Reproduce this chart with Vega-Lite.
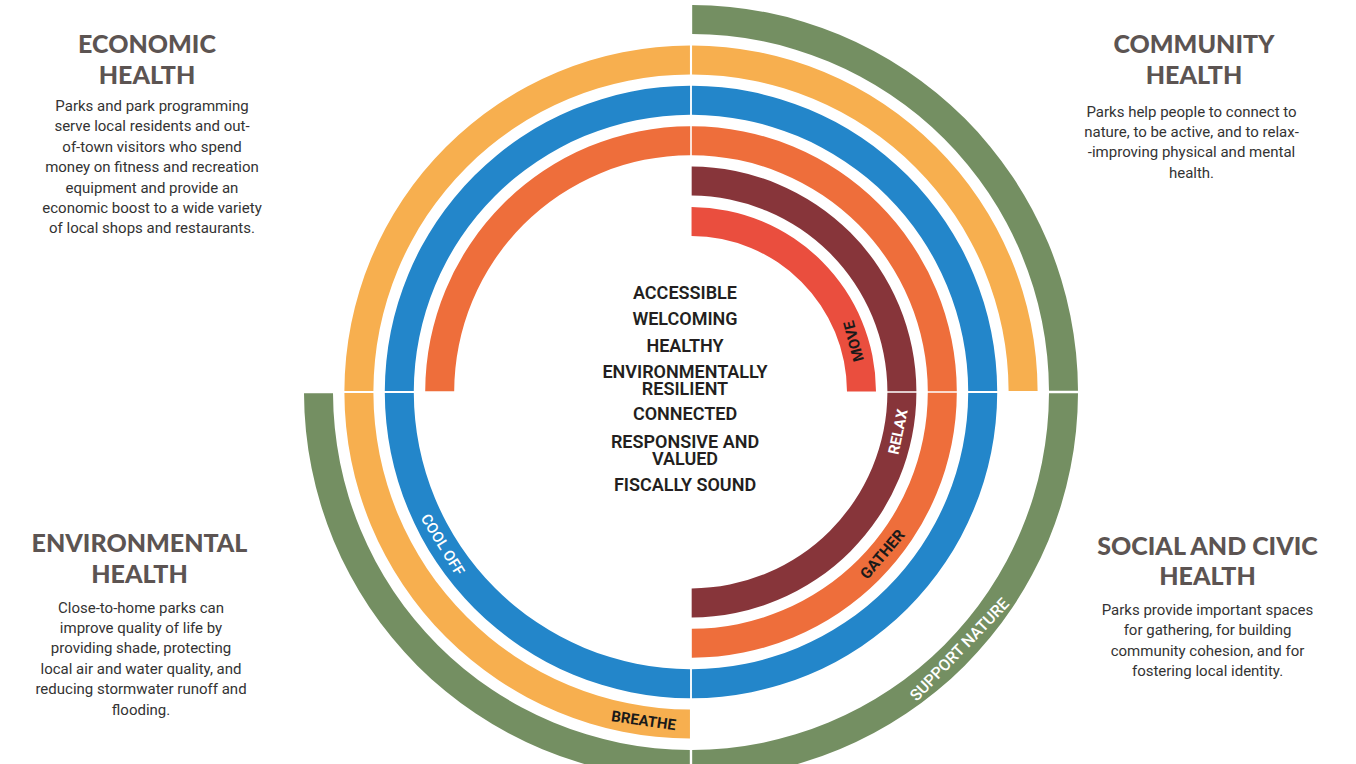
{
  "$schema": "https://vega.github.io/schema/vega-lite/v6.json",
  "width": 1330,
  "height": 744,
  "autosize": {"type": "none"},
  "padding": {"left": 26, "top": 20, "right": 0, "bottom": 0},
  "background": "white",
  "config": {"view": {"stroke": null}},
  "resolve": {"scale": {"radius": "independent", "theta": "independent", "color": "independent"}},
  "layer": [
    {
      "data": {"values": [
        {"quadrant": "Community Health", "activity": "Support Nature", "ring": 6, "start": 0, "end": 90},
        {"quadrant": "Community Health", "activity": "Breathe", "ring": 5, "start": 0, "end": 90},
        {"quadrant": "Community Health", "activity": "Cool Off", "ring": 4, "start": 0, "end": 90},
        {"quadrant": "Community Health", "activity": "Gather", "ring": 3, "start": 0, "end": 90},
        {"quadrant": "Community Health", "activity": "Relax", "ring": 2, "start": 0, "end": 90},
        {"quadrant": "Community Health", "activity": "Move", "ring": 1, "start": 0, "end": 90},
        {"quadrant": "Social and Civic Health", "activity": "Support Nature", "ring": 6, "start": 90, "end": 180},
        {"quadrant": "Social and Civic Health", "activity": "Cool Off", "ring": 4, "start": 90, "end": 180},
        {"quadrant": "Social and Civic Health", "activity": "Gather", "ring": 3, "start": 90, "end": 180},
        {"quadrant": "Social and Civic Health", "activity": "Relax", "ring": 2, "start": 90, "end": 180},
        {"quadrant": "Environmental Health", "activity": "Support Nature", "ring": 6, "start": 180, "end": 270},
        {"quadrant": "Environmental Health", "activity": "Breathe", "ring": 5, "start": 180, "end": 270},
        {"quadrant": "Environmental Health", "activity": "Cool Off", "ring": 4, "start": 180, "end": 270},
        {"quadrant": "Economic Health", "activity": "Breathe", "ring": 5, "start": 270, "end": 360},
        {"quadrant": "Economic Health", "activity": "Cool Off", "ring": 4, "start": 270, "end": 360},
        {"quadrant": "Economic Health", "activity": "Gather", "ring": 3, "start": 270, "end": 360}
      ]},
      "mark": {"type": "arc", "padAngle": 0.0045, "radius2Offset": -29},
      "encoding": {
        "theta": {"field": "start", "type": "quantitative", "stack": null, "scale": {"domain": [0, 360], "range": [0, 6.283185307179586]}},
        "theta2": {"field": "end"},
        "radius": {"field": "ring", "type": "quantitative", "stack": null, "scale": {"type": "linear", "domain": [0, 6], "range": [144.6, 387], "zero": false}},
        "radius2": {"field": "ring"},
        "color": {"field": "activity", "type": "nominal", "legend": null,
          "scale": {"domain": ["Move", "Relax", "Gather", "Cool Off", "Breathe", "Support Nature"],
                    "range": ["#EA4E3E", "#87353A", "#EE6E3B", "#2386CA", "#F7AF4F", "#748F62"]}}
      }
    },
    {
      "data": {"values": [{"label": "MOVE", "ring": 0.64, "at": 72.7}]},
      "mark": {"type": "text", "font": "Roboto", "fontWeight": "bold", "fontSize": 15, "fill": "#1a1a1a", "angle": -105, "align": "center", "baseline": "middle"},
      "encoding": {
        "theta": {"field": "at", "type": "quantitative", "stack": null, "scale": {"domain": [0, 360], "range": [0, 6.283185307179586]}},
        "radius": {"field": "ring", "type": "quantitative", "stack": null, "scale": {"type": "linear", "domain": [0, 6], "range": [144.6, 387], "zero": false}},
        "text": {"field": "label"}
      }
    },
    {
      "data": {"values": [{"label": "RELAX", "ring": 1.64, "at": 100.9}]},
      "mark": {"type": "text", "font": "Roboto", "fontWeight": "bold", "fontSize": 15, "fill": "white", "angle": -78, "align": "center", "baseline": "middle"},
      "encoding": {
        "theta": {"field": "at", "type": "quantitative", "stack": null, "scale": {"domain": [0, 360], "range": [0, 6.283185307179586]}},
        "radius": {"field": "ring", "type": "quantitative", "stack": null, "scale": {"type": "linear", "domain": [0, 6], "range": [144.6, 387], "zero": false}},
        "text": {"field": "label"}
      }
    },
    {
      "data": {"values": [{"label": "GATHER", "ring": 2.64, "at": 130.3}]},
      "mark": {"type": "text", "font": "Roboto", "fontWeight": "bold", "fontSize": 15.5, "fill": "#1a1a1a", "angle": -49.7, "align": "center", "baseline": "middle"},
      "encoding": {
        "theta": {"field": "at", "type": "quantitative", "stack": null, "scale": {"domain": [0, 360], "range": [0, 6.283185307179586]}},
        "radius": {"field": "ring", "type": "quantitative", "stack": null, "scale": {"type": "linear", "domain": [0, 6], "range": [144.6, 387], "zero": false}},
        "text": {"field": "label"}
      }
    },
    {
      "data": {"values": [{"label": "SUPPORT NATURE", "ring": 5.64, "at": 133.8}]},
      "mark": {"type": "text", "font": "Roboto", "fontWeight": 500, "fontSize": 16, "fill": "white", "angle": -46.2, "align": "center", "baseline": "middle"},
      "encoding": {
        "theta": {"field": "at", "type": "quantitative", "stack": null, "scale": {"domain": [0, 360], "range": [0, 6.283185307179586]}},
        "radius": {"field": "ring", "type": "quantitative", "stack": null, "scale": {"type": "linear", "domain": [0, 6], "range": [144.6, 387], "zero": false}},
        "text": {"field": "label"}
      }
    },
    {
      "data": {"values": [{"label": "COOL OFF", "ring": 3.64, "at": 238.4}]},
      "mark": {"type": "text", "font": "Roboto", "fontWeight": 500, "fontSize": 15, "fill": "white", "angle": 58.4, "align": "center", "baseline": "middle"},
      "encoding": {
        "theta": {"field": "at", "type": "quantitative", "stack": null, "scale": {"domain": [0, 360], "range": [0, 6.283185307179586]}},
        "radius": {"field": "ring", "type": "quantitative", "stack": null, "scale": {"type": "linear", "domain": [0, 6], "range": [144.6, 387], "zero": false}},
        "text": {"field": "label"}
      }
    },
    {
      "data": {"values": [{"label": "BREATHE", "ring": 4.64, "at": 188.2}]},
      "mark": {"type": "text", "font": "Roboto", "fontWeight": "bold", "fontSize": 15, "fill": "#1a1a1a", "angle": 8.2, "align": "center", "baseline": "middle"},
      "encoding": {
        "theta": {"field": "at", "type": "quantitative", "stack": null, "scale": {"domain": [0, 360], "range": [0, 6.283185307179586]}},
        "radius": {"field": "ring", "type": "quantitative", "stack": null, "scale": {"type": "linear", "domain": [0, 6], "range": [144.6, 387], "zero": false}},
        "text": {"field": "label"}
      }
    },
    {
      "data": {"values": [
        {"item": "ACCESSIBLE", "bearing": 0, "dist": 98.5},
        {"item": "WELCOMING", "bearing": 0, "dist": 72},
        {"item": "HEALTHY", "bearing": 0, "dist": 45.5},
        {"item": "ENVIRONMENTALLY\nRESILIENT", "bearing": 0, "dist": 19},
        {"item": "CONNECTED", "bearing": 180, "dist": 23},
        {"item": "RESPONSIVE AND\nVALUED", "bearing": 180, "dist": 51},
        {"item": "FISCALLY SOUND", "bearing": 180, "dist": 94}
      ]},
      "mark": {"type": "text", "font": "Roboto", "fontWeight": 600, "fontSize": 18, "fill": "#231f20", "align": "center", "baseline": "middle", "lineBreak": "\n", "lineHeight": 17, "dx": -6},
      "encoding": {
        "theta": {"field": "bearing", "type": "quantitative", "stack": null, "scale": {"domain": [0, 360], "range": [0, 6.283185307179586]}},
        "radius": {"field": "dist", "type": "quantitative", "stack": null, "scale": {"type": "linear", "domain": [0, 1000], "range": [0, 1000], "zero": true}},
        "text": {"field": "item"}
      }
    },
    {
      "data": {"values": [
        {"title": "ECONOMIC\nHEALTH", "bearing": 302.53, "dist": 645.25},
        {"title": "COMMUNITY\nHEALTH", "bearing": 55.4, "dist": 611.08},
        {"title": "ENVIRONMENTAL\nHEALTH", "bearing": 254.59, "dist": 572.06},
        {"title": "SOCIAL AND CIVIC\nHEALTH", "bearing": 106.7, "dist": 539.26}
      ]},
      "mark": {"type": "text", "font": "Lato", "fontWeight": 900, "fontSize": 25, "fill": "#5C5452", "align": "center", "baseline": "middle", "lineBreak": "\n", "lineHeight": 30.5},
      "encoding": {
        "theta": {"field": "bearing", "type": "quantitative", "stack": null, "scale": {"domain": [0, 360], "range": [0, 6.283185307179586]}},
        "radius": {"field": "dist", "type": "quantitative", "stack": null, "scale": {"type": "linear", "domain": [0, 1000], "range": [0, 1000], "zero": true}},
        "text": {"field": "title"}
      }
    },
    {
      "data": {"values": [
        {"body": "Parks and park programming\nserve local residents and out-\nof-town visitors who spend\nmoney on fitness and recreation\nequipment and provide an\neconomic boost to a wide variety\nof local shops and restaurants.", "bearing": 297.95, "dist": 610.18},
        {"body": "Parks help people to connect to\nnature, to be active, and to relax-\n-improving physical and mental\nhealth.", "bearing": 60.75, "dist": 573.65},
        {"body": "Close-to-home parks can\nimprove quality of life by\nproviding shade, protecting\nlocal air and water quality, and\nreducing stormwater runoff and\nflooding.", "bearing": 248.6, "dist": 590.71},
        {"body": "Parks provide important spaces\nfor gathering, for building\ncommunity cohesion, and for\nfostering local identity.", "bearing": 112.88, "dist": 560.62}
      ]},
      "mark": {"type": "text", "font": "Roboto", "fontWeight": "normal", "fontSize": 15, "fill": "#333333", "align": "center", "baseline": "middle", "lineBreak": "\n", "lineHeight": 20.4},
      "encoding": {
        "theta": {"field": "bearing", "type": "quantitative", "stack": null, "scale": {"domain": [0, 360], "range": [0, 6.283185307179586]}},
        "radius": {"field": "dist", "type": "quantitative", "stack": null, "scale": {"type": "linear", "domain": [0, 1000], "range": [0, 1000], "zero": true}},
        "text": {"field": "body"}
      }
    }
  ]
}
